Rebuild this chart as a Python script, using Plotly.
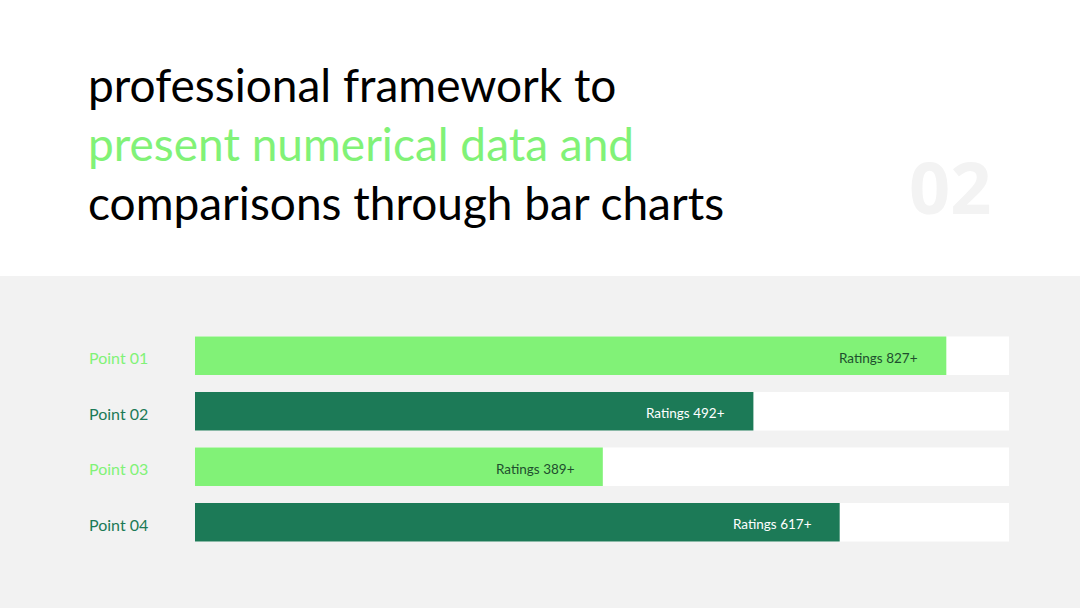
import plotly.graph_objects as go

categories = ["Point 01", "Point 02", "Point 03", "Point 04"]
bar_values = [92.3, 68.6, 50.1, 79.2]          # bar length, % of full track
track_values = [100, 100, 100, 100]
rating_labels = ["Ratings 827+", "Ratings 492+", "Ratings 389+", "Ratings 617+"]

LIGHT = "#81F277"
DARK = "#1C7A57"
bar_colors = [LIGHT, DARK, LIGHT, DARK]
label_text_colors = ["#1E4F2E", "#FFFFFF", "#1E4F2E", "#FFFFFF"]
cat_colors = [LIGHT, DARK, LIGHT, DARK]

W, H = 1080, 608
ML, MR, MT, MB = 195, 71, 328, 58
PW, PH = W - ML - MR, H - MT - MB

def px_x(p):
    return (p - ML) / PW

def px_y(p):
    return (H - MB - p) / PH

fig = go.Figure()
fig.add_trace(go.Bar(y=categories, x=track_values, orientation="h",
                     marker=dict(color="#FFFFFF", line=dict(width=0)),
                     width=0.69, hoverinfo="skip", showlegend=False))
fig.add_trace(go.Bar(y=categories, x=bar_values, orientation="h",
                     marker=dict(color=bar_colors, line=dict(width=0)),
                     width=0.69, showlegend=False))

annotations = []
for cat, v, lab, tc, cc in zip(categories, bar_values, rating_labels, label_text_colors, cat_colors):
    annotations.append(dict(x=v, y=cat, xref="x", yref="y", text=lab, showarrow=False,
                            xanchor="right", xshift=-26, yshift=-2,
                            font=dict(family="Lato", size=13.5, color=tc)))
    annotations.append(dict(x=px_x(87), y=cat, xref="paper", yref="y", text=cat, showarrow=False,
                            xanchor="left", yshift=-2,
                            font=dict(family="Lato", size=16, color=cc)))

title_lines = [("professional framework to", "#000000", 84),
               ("present numerical data and", LIGHT, 143),
               ("comparisons through bar charts", "#000000", 202)]
for t, c, yc in title_lines:
    annotations.append(dict(x=px_x(86), y=px_y(yc), xref="paper", yref="paper", text=t,
                            showarrow=False, xanchor="left", yanchor="middle",
                            font=dict(family="Lato", size=46, color=c)))

annotations.append(dict(x=px_x(950), y=px_y(186), xref="paper", yref="paper", text="<b>02</b>",
                        showarrow=False, xanchor="center", yanchor="middle",
                        font=dict(family="Open Sans", size=72, color="#F3F3F3")))

fig.update_layout(
    width=W, height=H,
    margin=dict(l=ML, r=MR, t=MT, b=MB),
    paper_bgcolor="#FFFFFF", plot_bgcolor="rgba(0,0,0,0)",
    barmode="overlay",
    xaxis=dict(range=[0, 100], visible=False, fixedrange=True),
    yaxis=dict(autorange="reversed", visible=False, fixedrange=True),
    annotations=annotations,
    shapes=[dict(type="rect", xref="paper", yref="paper",
                 x0=px_x(0), x1=px_x(W), y0=px_y(H), y1=px_y(276),
                 fillcolor="#F2F2F2", line=dict(width=0), layer="below")],
)

fig.write_html("out.html")
